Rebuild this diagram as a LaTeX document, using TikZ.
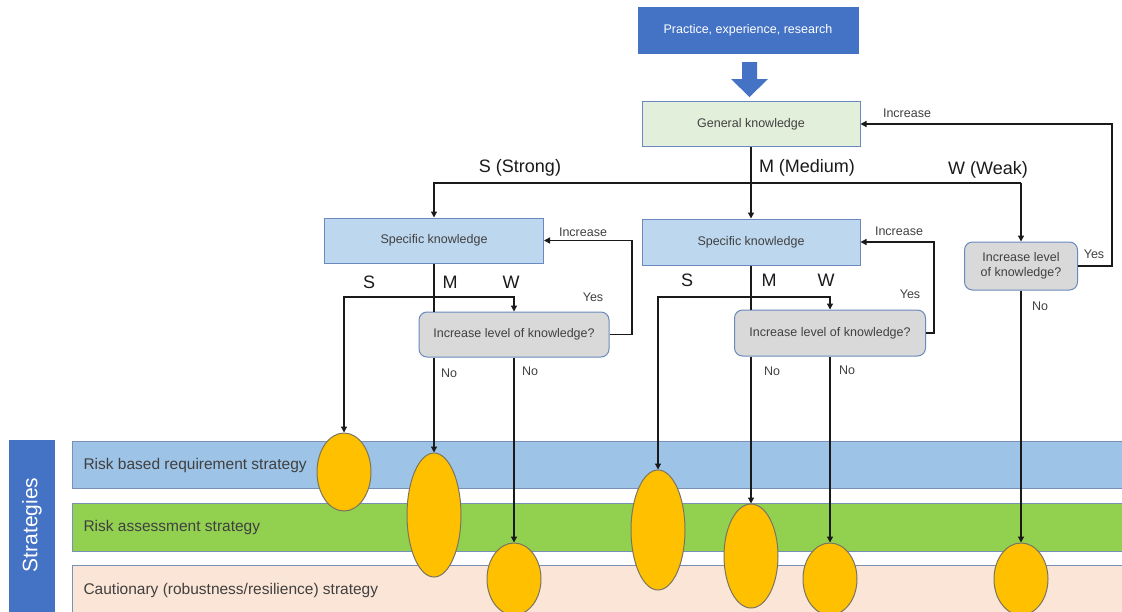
\documentclass[tikz,border=0pt]{standalone}
\usepackage{fontspec}
\setmainfont{Liberation Sans}
\usetikzlibrary{arrows.meta,shapes.geometric}
\definecolor{deepblue}{HTML}{4472C4}
\definecolor{genfill}{HTML}{E2EFDA}
\definecolor{specfill}{HTML}{BDD7EE}
\definecolor{askgray}{HTML}{D9D9D9}
\definecolor{boxedge}{HTML}{6A89BE}
\definecolor{blobfill}{HTML}{FFC000}
\definecolor{blobedge}{HTML}{7A7560}
\definecolor{bandblue}{HTML}{9DC3E6}
\definecolor{bandgreen}{HTML}{92D050}
\definecolor{bandpink}{HTML}{FBE5D6}
\definecolor{bandedge}{HTML}{7890B8}
\definecolor{textgray}{HTML}{404040}
\definecolor{linecol}{HTML}{1A1A1A}
\begin{document}
\begin{tikzpicture}[x=1pt,y=-1pt,
	txt/.style={font=\fontsize{12.5}{15}\selectfont, text=textgray},
	big/.style={font=\fontsize{18}{20}\selectfont, text=linecol},
	box/.style={draw=boxedge, line width=1pt, inner sep=0pt, txt},
	ask/.style={box, fill=askgray, rounded corners=8pt, align=center},
	blob/.style={ellipse, draw=blobedge, line width=1pt, fill=blobfill, inner sep=0pt, minimum width=54pt},
	band/.style={draw=bandedge, line width=0.8pt},
	ln/.style={line width=1.3pt, draw=linecol},
	arr/.style={ln, -{Triangle[length=6pt,width=6pt]}}]
	\useasboundingbox (0,0) rectangle (1122,611);
	% les bandes
	\fill[white] (0,0) rectangle (1122,611);
	\draw[band, fill=bandblue] (72,441) rectangle (1130,488);
	\draw[band, fill=bandgreen] (72,503) rectangle (1130,551);
	\draw[band, fill=bandpink] (72,565) rectangle (1130,620);
	\fill[deepblue] (9,440) rectangle (55,620);
	\node (strat) [rotate=90, text=white, font=\fontsize{21}{24}\selectfont] at (32,525) {Strategies};
	\node (rbr) [txt, anchor=west, font=\fontsize{15.5}{18}\selectfont] at (80,465) {Risk based requirement strategy};
	\node (ras) [txt, anchor=west, font=\fontsize{15.5}{18}\selectfont] at (80,527) {Risk assessment strategy};
	\node (cau) [txt, anchor=west, font=\fontsize{15.5}{18}\selectfont] at (80,590) {Cautionary (robustness/resilience) strategy};
	% les boites
	\node (src) [box, fill=deepblue, draw=deepblue, text=white, minimum width=220pt, minimum height=46pt] at (748,30) {Practice, experience, research};
	\node (gen) [box, fill=genfill, minimum width=218pt, minimum height=45pt] at (751,124) {General knowledge};
	\node (spec1) [box, fill=specfill, minimum width=219pt, minimum height=45pt] at (434,240.5) {Specific knowledge};
	\node (spec2) [box, fill=specfill, minimum width=218pt, minimum height=46pt] at (751,242) {Specific knowledge};
	\node (ask1) [ask, minimum width=190pt, minimum height=45pt] at (514,334.5) {Increase level of knowledge?};
	\node (ask2) [ask, minimum width=191pt, minimum height=46pt] at (830,333) {Increase level of knowledge?};
	\node (ask3) [ask, minimum width=113pt, minimum height=48pt] at (1021,266) {Increase level\\of knowledge?};
	% la fleche bleue
	\fill[deepblue] (742,62) -- (757,62) -- (757,79) -- (768,79) -- (749.5,97) -- (731,79) -- (742,79) -- cycle;
	% les liens
	\coordinate (topbus) at (0,183);
	\coordinate (bus1) at (0,297);
	\coordinate (bus2) at (0,297);
	\coordinate (loopG) at (1112,0);
	\coordinate (loop1) at (632,0);
	\coordinate (loop2) at (934,0);
	\draw[arr] (gen.south) -- (spec2.north);
	\draw[arr] (ask3.north |- topbus) -| (spec1.north);
	\draw[arr] (ask3.north |- topbus) -- (ask3.north);
	\draw[arr] (ask3.east) -| (loopG |- gen.east) -- (gen.east);
	\draw[arr] (ask1.east) -| (loop1 |- spec1.east) -- (spec1.east);
	\draw[arr] (ask2.east) -| (loop2 |- spec2.east) -- (spec2.east);
	\draw[ln] (spec1.south) -- (spec1.south |- ask1.north);
	\draw[ln] (spec2.south) -- (spec2.south |- ask2.north);
	% les ellipses
	\node (e1) [blob, minimum height=78pt] at (344,472) {};
	\node (e2) [blob, minimum height=124pt] at (434,515) {};
	\node (e3) [blob, minimum height=72pt] at (514,579) {};
	\node (e4) [blob, minimum height=120pt] at (658,530) {};
	\node (e5) [blob, minimum height=104pt] at (751,556) {};
	\node (e6) [blob, minimum height=72pt] at (830,579) {};
	\node (e7) [blob, minimum height=72pt] at (1021,579) {};
	\draw[arr] (ask1.north |- bus1) -| (e1.north);
	\draw[arr] (e1.north |- bus1) -| (ask1.north);
	\draw[arr] (ask1.south -| e2.north) -- (e2.north);
	\draw[arr] (ask1.south) -- (e3.north);
	\draw[arr] (ask2.north |- bus2) -| (e4.north);
	\draw[arr] (e4.north |- bus2) -| (ask2.north);
	\draw[arr] (ask2.south -| e5.north) -- (e5.north);
	\draw[arr] (ask2.south) -- (e6.north);
	\draw[arr] (ask3.south) -- (e7.north);
	% les etiquettes
	\node (incG) [txt] at (907,113) {Increase};
	\node (lS) [big] at (520,168) {S (Strong)};
	\node (lM) [big] at (807,168) {M (Medium)};
	\node (lW) [big] at (988,170) {W (Weak)};
	\node (inc1) [txt] at (583,232) {Increase};
	\node (inc2) [txt] at (899,231) {Increase};
	\node (s1) [big] at (369,282) {S};
	\node (m1) [big] at (450,282) {M};
	\node (w1) [big] at (511,282) {W};
	\node (yes1) [txt] at (593,297) {Yes};
	\node (no1a) [txt] at (449,373) {No};
	\node (no1b) [txt] at (530,371) {No};
	\node (s2) [big] at (687,280) {S};
	\node (m2) [big] at (769,280) {M};
	\node (w2) [big] at (826,280) {W};
	\node (yes2) [txt] at (910,294) {Yes};
	\node (no2a) [txt] at (772,371) {No};
	\node (no2b) [txt] at (847,370) {No};
	\node (yes3) [txt] at (1094,254) {Yes};
	\node (no3) [txt] at (1040,306) {No};
\end{tikzpicture}
\end{document}
